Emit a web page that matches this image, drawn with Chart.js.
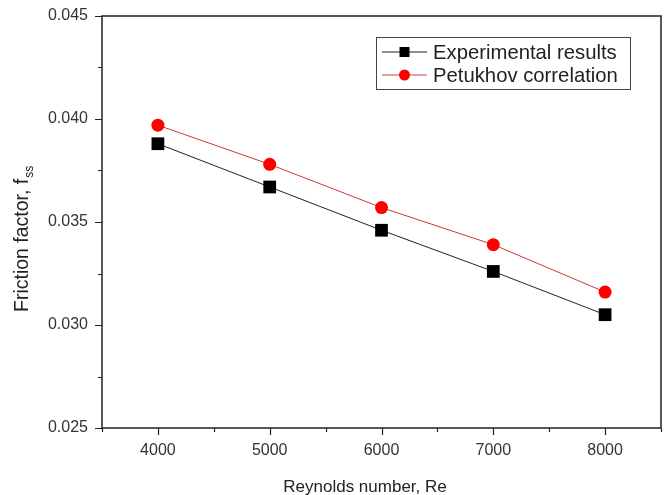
<!DOCTYPE html>
<html>
<head>
<meta charset="utf-8">
<script src="https://cdn.jsdelivr.net/npm/chart.js"></script>
<style>
  body { margin: 0; background: #fff; }
  #wrap { width: 670px; height: 495px; }
</style>
</head>
<body>
<div id="wrap"><canvas id="myChart"></canvas></div>
<script>
// values
let reynolds = [4000, 5000, 6000, 7000, 8000];
let expResults = [0.0388, 0.0367, 0.0346, 0.0326, 0.0305];
let petukhov = [0.0397, 0.0378, 0.0357, 0.0339, 0.0316];
let seriesNames = ['Experimental results', 'Petukhov correlation'];
let xTitle = 'Reynolds number, Re';
let yTitle = 'Friction factor, f';
let ySub = 'ss';

const FONT = "Arial, 'Liberation Sans', sans-serif";

function toPoints(ys) {
    return reynolds.map((x, i) => ({ x: x, y: ys[i] }));
}

// no extra room for labels, keeps the plot box where it is in the picture
function noPad(s) {
    s.paddingTop = 0;
    s.paddingBottom = 0;
    s.paddingLeft = 0;
    s.paddingRight = 0;
}

// box round the plot, outward ticks (major + minor), axis titles
const framePlugin = {
    id: 'frame',
    afterDraw(chart) {
        const ctx = chart.ctx;
        const a = chart.chartArea;
        const xs = chart.scales.x;
        const ys = chart.scales.y;
        ctx.save();
        ctx.strokeStyle = '#222';
        ctx.lineWidth = 1.5;
        ctx.strokeRect(a.left, a.top, a.right - a.left, a.bottom - a.top);

        ctx.lineWidth = 1.2;
        ctx.beginPath();
        for (let v = 3500; v <= 8500; v += 500) {
            const px = Math.round(xs.getPixelForValue(v)) + 0.5;
            const len = v % 1000 === 0 ? 7 : 4;
            ctx.moveTo(px, a.bottom);
            ctx.lineTo(px, a.bottom + len);
        }
        for (let k = 0; k <= 8; k++) {
            const v = 0.025 + k * 0.0025;
            const py = Math.round(ys.getPixelForValue(v)) + 0.5;
            const len = k % 2 === 0 ? 7 : 4;
            ctx.moveTo(a.left, py);
            ctx.lineTo(a.left - len, py);
        }
        ctx.stroke();

        // x title
        ctx.fillStyle = '#222';
        ctx.font = '17px ' + FONT;
        ctx.textAlign = 'center';
        ctx.textBaseline = 'alphabetic';
        ctx.fillText(xTitle, 365, 492);

        // y title with subscript
        ctx.translate(28, 312);
        ctx.rotate(-Math.PI / 2);
        ctx.textAlign = 'left';
        ctx.font = '19.5px ' + FONT;
        ctx.fillText(yTitle, 0, 0);
        const w = ctx.measureText(yTitle).width;
        ctx.font = '12px ' + FONT;
        ctx.fillText(ySub, w + 1, 5);
        ctx.restore();
    }
};

// legend: line through marker, in a box
const legendPlugin = {
    id: 'boxLegend',
    afterDraw(chart) {
        const ctx = chart.ctx;
        ctx.save();
        ctx.strokeStyle = '#444';
        ctx.lineWidth = 1;
        ctx.strokeRect(376.5, 37.5, 254, 52);
        const rows = [52, 75];
        chart.data.datasets.forEach((ds, i) => {
            const y = rows[i];
            ctx.strokeStyle = ds.borderColor;
            ctx.lineWidth = 1;
            ctx.beginPath();
            ctx.moveTo(382, y);
            ctx.lineTo(427, y);
            ctx.stroke();
            ctx.fillStyle = ds.pointBackgroundColor;
            if (ds.pointStyle === 'rect') {
                ctx.fillRect(404.5 - 5, y - 5, 10, 10);
            } else {
                ctx.beginPath();
                ctx.arc(404.5, y, 5.5, 0, Math.PI * 2);
                ctx.fill();
            }
            ctx.fillStyle = '#222';
            ctx.font = '20.3px ' + FONT;
            ctx.textAlign = 'left';
            ctx.textBaseline = 'middle';
            ctx.fillText(seriesNames[i], 433, y + 1);
        });
        ctx.restore();
    }
};

const ctx1 = document.getElementById('myChart').getContext('2d');

const chart1 = new Chart(ctx1, {
    type: 'line',
    data: {
        datasets: [
            {
                label: seriesNames[0],
                data: toPoints(expResults),
                borderColor: '#222',
                borderWidth: 1,
                pointStyle: 'rect',
                pointRadius: 9,
                pointBackgroundColor: '#000',
                pointBorderWidth: 0,
                fill: false
            },
            {
                label: seriesNames[1],
                data: toPoints(petukhov),
                borderColor: '#cc3a3a',
                borderWidth: 1,
                pointStyle: 'circle',
                pointRadius: 6.5,
                pointBackgroundColor: '#ff0000',
                pointBorderWidth: 0,
                fill: false
            }
        ]
    },
    options: {
        responsive: true,
        maintainAspectRatio: false,
        animation: false,
        layout: { padding: { left: 0, top: 16, right: 0, bottom: 0 } },
        plugins: {
            legend: { display: false },
            tooltip: { enabled: false }
        },
        scales: {
            x: {
                type: 'linear',
                min: 3500,
                max: 8500,
                grid: { display: false, drawTicks: false },
                border: { display: false },
                afterFit: s => { s.height = 67; noPad(s); },
                ticks: {
                    stepSize: 500,
                    autoSkip: false,
                    maxRotation: 0,
                    padding: 13,
                    color: '#333',
                    font: { family: FONT, size: 16 },
                    callback: v => (v % 1000 === 0 ? String(v) : '')
                }
            },
            y: {
                min: 0.025,
                max: 0.045,
                grid: { display: false, drawTicks: false },
                border: { display: false },
                afterFit: s => { s.width = 102; noPad(s); },
                ticks: {
                    stepSize: 0.005,
                    autoSkip: false,
                    padding: 14,
                    color: '#333',
                    font: { family: FONT, size: 16 },
                    callback: v => v.toFixed(3)
                }
            }
        }
    },
    plugins: [framePlugin, legendPlugin]
});
</script>
</body>
</html>
